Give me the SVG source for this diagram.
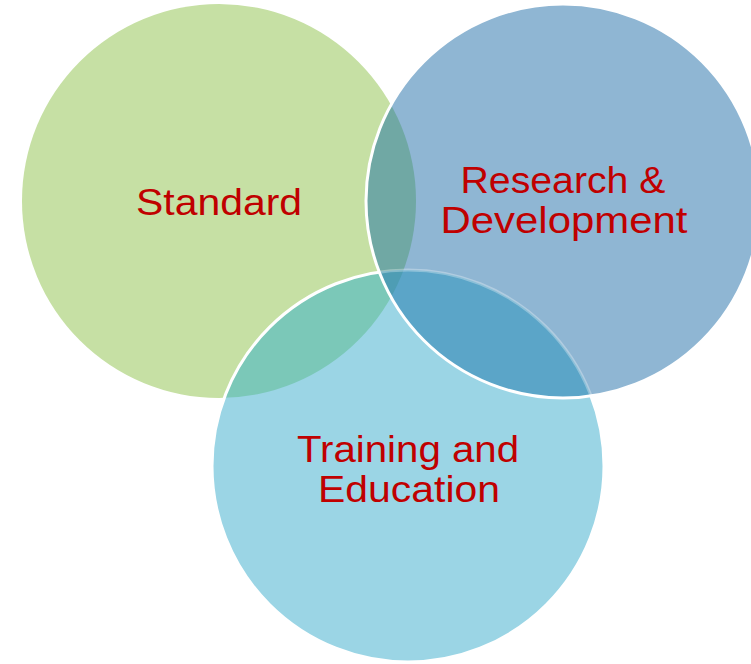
<svg xmlns="http://www.w3.org/2000/svg" width="751" height="664" viewBox="0 0 751 664">
<style>
.lbl{font-family:"Liberation Sans",Arial,sans-serif;font-size:37px;fill:#c00000;text-anchor:middle}
</style>
<defs>
<circle id="cg" cx="219" cy="201" r="197"/>
<circle id="cb" cx="563" cy="201" r="197"/>
<circle id="cl" cx="408" cy="466" r="196"/>
<clipPath id="clipG"><use href="#cg"/></clipPath>
<clipPath id="clipB"><use href="#cb"/></clipPath>
<clipPath id="clipL"><use href="#cl"/></clipPath>
</defs>
<rect width="751" height="664" fill="#ffffff"/>
<g id="standard">
<use href="#cg" fill="#c6e0a4"/>
</g>
<g id="training">
<use href="#cl" fill="#9bd5e5"/>
<g clip-path="url(#clipG)"><use href="#cl" fill="#7bc8b8"/></g>
<use href="#cl" fill="none" stroke="#ffffff" stroke-width="3"/>
</g>
<g id="research">
<use href="#cb" fill="#8fb6d3"/>
<g clip-path="url(#clipG)"><use href="#cb" fill="#70a8a4"/></g>
<g clip-path="url(#clipL)"><use href="#cb" fill="#5ba5c8"/></g>
<g clip-path="url(#clipL)"><g clip-path="url(#clipG)"><use href="#cb" fill="#4e9db4"/></g></g>
<g clip-path="url(#clipB)"><use href="#cl" fill="none" stroke="#ffffff" stroke-opacity="0.3" stroke-width="3"/></g>
<use href="#cb" fill="none" stroke="#ffffff" stroke-width="3"/>
</g>
<g id="labels">
<text class="lbl" x="219" y="215" textLength="166" lengthAdjust="spacingAndGlyphs">Standard</text>
<text class="lbl" x="563" y="193" textLength="205" lengthAdjust="spacingAndGlyphs">Research &amp;</text>
<text class="lbl" x="564" y="233" textLength="247" lengthAdjust="spacingAndGlyphs">Development</text>
<text class="lbl" x="408" y="462" textLength="222" lengthAdjust="spacingAndGlyphs">Training and</text>
<text class="lbl" x="409" y="502" textLength="182" lengthAdjust="spacingAndGlyphs">Education</text>
</g>
</svg>
